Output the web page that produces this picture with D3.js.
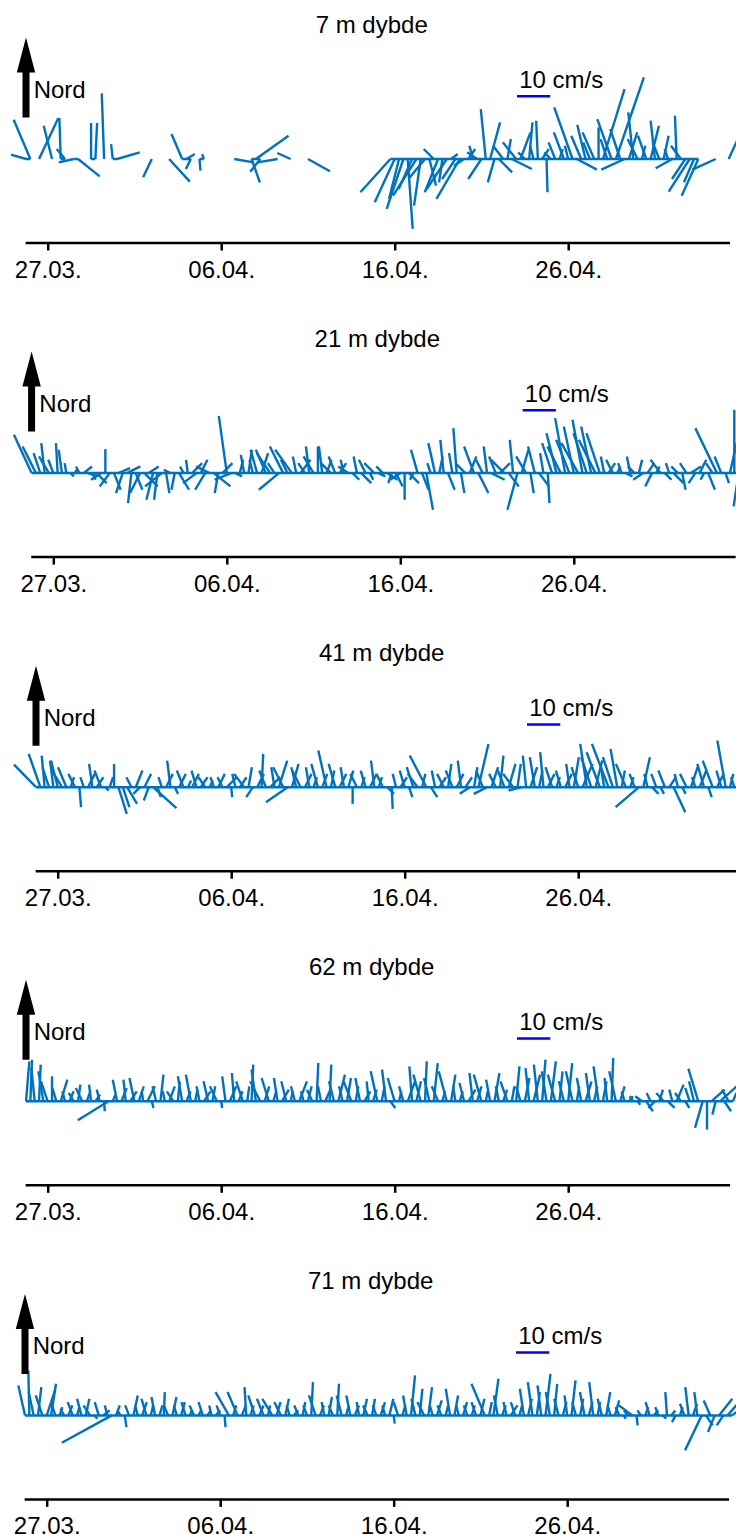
<!DOCTYPE html>
<html>
<head>
<meta charset="utf-8">
<script src="https://cdn.jsdelivr.net/npm/d3@7"></script>
<style>
  html, body { margin: 0; padding: 0; background: #fff; }
  svg { display: block; }
  text { font-family: "Liberation Sans", Arial, Helvetica, sans-serif; fill: #000; }
</style>
</head>
<body>
<svg id="chart" width="736" height="1535"></svg>
<script>
// Current meter stick plots, one panel per depth.
// Samples every 6 hours from 25.03 18:00; east (u) and north (v) components in cm/s.
// null = no valid measurement.

const titles = ["7 m dybde", "21 m dybde", "41 m dybde", "62 m dybde", "71 m dybde"];
const tickLabels = ["27.03.", "06.04.", "16.04.", "26.04."];
const scaleLabel = "10 cm/s";
const northLabel = "Nord";
const scaleValue = 10; // cm/s

const east7 = [
  -4.5, -5, null, 5.8, null, null, -2.5, null, -0.4, -2.5,
  null, -4.5, 6.5, null, null, 0, 0.5, null, -0.7, null,
  -0.5, 6.8, null, null, null, null, null, null, null, -2.6,
  null, null, null, 6.2, null, null, -3.2, 2.5, -1.5, null,
  0.3, -0.5, null, null, null, null, null, null, 5.8, null,
  null, null, 2.5, 9.8, -3, null, null, null, -6, null,
  null, -4, null, null, null, 6.6, null, null, null, null,
  null, null, null, null, null, null, null, null, null, null,
  null, null, null, null, -9, -6, -3, -5, 1.5, -4,
  -7, -2, -5, 2, -3, -4, -1, -6, 2, -4,
  -7, -3, 2, -1, -3, -4, -1.5, 3, -2, 4,
  -3, 1, 6, -4, 3, -2, 1, -1, -0.5, 2,
  0.3, -2, -2, 1, -3, -1, -5.5, 6, -3, -2.5,
  -2, -3.5, 0, 6.5, -2, -4.3, 8.4, -3, -7, 2.5,
  -1.5, -3, 1, -2.5, 2.5, -1.3, -2, 1.5, -1, -5,
  -0.5, -3, -4, -6.3, -3, -5, null, null, null, -7,
  null, null, 2.5, null
];
const north7 = [
  1.3, 11.8, null, 12.3, null, null, 10, null, 12.3, 3,
  null, -1, -5.2, null, null, 10.8, 10.8, null, 19.7, null,
  4.5, 2, null, null, null, null, null, null, null, -5.5,
  null, null, null, -6.8, null, null, 7.5, 1.5, -3, null,
  -3.5, 1.5, null, null, null, null, null, null, -1, null,
  null, null, -7, 7, -3.8, null, null, null, -1, null,
  null, 1.8, null, null, null, -3.7, null, null, null, null,
  null, null, null, null, null, null, null, null, null, null,
  null, null, null, null, -10, -13, -12, -15, -21, -9,
  -11, -14, -6, -8, 3, -10, -7, -9, 1.5, -6,
  -12, -2, 3, 4, 2, -6, 15, 11, -7, -4,
  4, 6, -3, 5, 8, 2, 11, 4, 11.5, 3,
  -10, 2, 5, 3, 8, 4, 15.5, -3.2, 7, 10.3,
  5, 8, 9.5, 21, 6, 12, 24.5, 9, -3.2, 8,
  14, 6, 4, 7, 10, 11.5, 5, 7, 3, -2.8,
  13, 4, -6, -9.8, -7, -11, null, null, null, -3.2,
  null, null, 5.5, null
];

const east21 = [
  -5.3, -4, -2, -1, -3, -1.5, -0.5, -1, -0.5, 1,
  0.5, -1, 2.5, 3, 1, 3, -3, 0, -3, 2,
  3.5, -2, 4, -1, 2, -3, 4, 3, -2, -1,
  -5, 1, -2, -1, 3, -1, -0.5, 3, -4, 2,
  -3, -4, 5, -1, 3, -2.4, -5, 2, 1, -1,
  1, -1, -2, 2, -3, -4, -2, -6, -4, -2,
  -5, -1, 3, -2, -1, -3, 0, -1, 1.5, -3,
  -2, 2, -1, -3, 2, -1, 3, -2, 1, -3,
  2, -2, 3, -1, 2, -3, 0, 3, -1, -2,
  2, 2, -1, -2, 1, -1, 2, -1, -1, 1,
  -3, 2, -3, 3, -2, -1, 4, -2, 3, -4,
  3, -1, -3, 2, -3, 1, -2, 3, -1, 0.5,
  -3, -3, -4, -3, -4, -3, -5, -3, -4, -3,
  -5, -4, -1, 2, -2, 1, -1, 2, -1, -2,
  1, -3, 2, -2, 1, -3, 2, -1, 3, -2,
  1, -2, 3, -2, 2, -1, 2, -2, -6.5, -2,
  1, 2, 0, -1.5
];
const north21 = [
  11.5, 8, 6, 9, 5, 4, 9, 7, 3, -1,
  1, 2, 2, -1, -2, -3, -2, 7.2, -4, -5,
  1.5, -6, 2, -9, -5, -6, -4, 2, -8, -8,
  -4, -6, 1, -5, -5, 2, 4, 3, -3, 4,
  -5, 2, -4, -6, 3, 17.2, -2, -1, 4, 5.5,
  7, 4, 7, 6, 7, 6, 3, -5, 8, 4,
  7, 5, 4, 3, 8, 5, 8, 8, 4, 3,
  5, 3, 4, 2, -2, 5, -3, 4, -2, 3,
  -1, 2, -2, -3, -4, -2, -8, -3, -2, 7,
  -5, -11, 3, 9, 5, 10, -5, 6, 13.5, -6,
  3, 5, 8, -6, 4, 8, -2, 5, 3, 4,
  -4, 10, -11, 7, 5, -6, 8, -4, 6, -9,
  9, 12, 8, 16.5, 10, 14, 9, 16, 12, 14,
  10, 12, 5, 3, 4, 2, 3, -1, 5, 2,
  4, -2, 3, -4, 2, 4, -2, 3, -3, 2,
  -5, 3, 2, -3, 4, -2, -5, 3, 13.5, 5,
  -3, 9, 19, -10
];

const east41 = [
  -6.6, -3.5, -0.9, -2, -1, -2, -3, -2.5, 1, -2,
  0.5, -1, 2, -1, 2, -2, 1, 1, 0, 2.5,
  2, 3, -1.5, 2, -2, 2, -1.5, 7, 1, -1,
  2, -1, 1, 2, -2, 1, 2, -1.5, 2, -2,
  1, -1, 2, -1.5, 3, 0.3, -1, 2, -3, 1,
  -2, 2, 0.5, -2, 3, -1, 2.5, -3, -6.5, 2,
  -1.5, -2.5, 2, -1, 1, -2, 1.5, -2.5, 1, -2,
  2, -1, 1.5, 0, -2, 1, -1.5, 2, -1, 1,
  -2, 2, 0.3, -1, 2, -1.5, 1, -2, -3, 1,
  -5, 2, -1, 2, -2, 1, -2, 2, -1, 2,
  -3, 1, 3, -2, -4, 2, -2, 1, -2, 2,
  -3, 1, -4, -1, 2, -1.5, 1, -1, 2, -2,
  1, -1.5, 2, -1, 1.5, -2, 3, -2, -3, 2,
  -4, -1, -5, -3, -2, 1, -3, 1, -1.5, -7,
  2, -1, 2, -1.5, 1, -2, 2, 3.5, -1, 1,
  -2, 2, -1, 2, -2, 1, -3, 2, -1.5, -2.5,
  1, -1, 0, 0
];
const north41 = [
  6.8, 10, 9.5, 6, 8, 8, 5, 6, 3, 4,
  -6, 3, 4, 7, 3, 5, -1, 3, 7, -8,
  -6, -5, 3, 5, -2, 4, -4, -6.3, -3, 3,
  4, 8, -2, 4, 5, 2, 4, 5, 3, 3,
  2, 3, 4, 3, 3, -3, 4, 3, 4, 6,
  -3, 4, 10, 5, 3, 6, 8, 6, -4.5, 7,
  6, 5, 4, 6, 3, 7, 4, 11, 5, 7,
  4, 6, 5, -5, 4, 3, 5, 4, 8, 3,
  4, -2, -6.5, 4, 3, 5, -3, 6, 4, 4,
  9.5, -3, 5, 3, 4, 7, 5, 4, 8, 3,
  -2, 6, 13, 5, -2, 6, 4, 9.5, 5, 7,
  4, 7, -1, 9.5, 6, 9, 5, 10.5, 4, 6,
  3, 5, 4, 7, 9, 6, 7, 13, 9, 8,
  10.5, 6, 13, 9, 11.5, 5, 7, 3, 4, -6,
  9, 4, -2, 4, -2, 5, 3, -7.5, 4, -2,
  4, 6, 3, 5, 7, -3, 8, 4, 5, 14,
  4, 3, 2, 1.5
];

const east62 = [
  1, 0.5, -1, 0.5, -1.5, -2, 0, -1.2, 2, -0.8,
  1.3, -1.5, 0.7, -2, 1.1, -0.6, 1.4, -0.9, 0.2, -9.2,
  0.8, -1.3, 1.6, -0.7, 2, -1.5, 1.5, -0.4, 2.2, 0.5,
  -1.1, 0.9, -0.6, 1.7, -2, 0.6, -1.3, 1.2, -1.5, 0.7,
  -0.9, 2, -1.4, 0.8, -2.1, 0.3, -1, 1.9, -0.7, 1.2,
  -2, 0.6, 0.5, -1.3, -3, 1.4, -2.2, 0.9, -1.1, 2.1,
  -1.5, 0.7, -1.2, 2.3, -0.8, 1.1, -1.6, 0.5, -0.9, 1.3,
  0.5, -1.5, 2, -1.1, 1.2, -2.3, 0.8, -1.4, 1.8, -0.6,
  1.1, -2, 0.9, -1.2, 1.5, -2.1, 0.7, -1.3, 2.2, -0.8,
  1.4, -2.2, 0.5, -1.6, 1.2, -1.9, 0.8, -2.4, 1.3, -0.7,
  0.9, -1.4, 2.1, -1, 1.3, -2.3, 0.6, -1.2, 1.5, -0.9,
  1.2, -2.1, 0.8, 1, -1.3, 1.4, -1.1, 2, -1.2, 1,
  -1.4, 1.5, -2.2, 0.9, -1.5, 1.2, -2, 0.7, -1.3, 1.8,
  -1.2, 0.9, -1.5, 1.1, -0.8, 0.5, -2, 1.3, -0.9, 1.2,
  -1.1, 0.8, -2, 2, -1.2, -2, 1.1, -2.2, 2, -0.9,
  2.1, -1.8, 1.2, -1.3, -1.5, -3, -2.3, 0, 4, -1,
  5, 2, -2, 1
];
const north62 = [
  12, 12.5, 10, 11, 9, 6, 7.5, 4, 6.5, 3,
  3, 2.5, 5, 4, 3, 5, 2, 3.5, -3, -5.7,
  2, 6.5, 4, 6.5, 3, 7, 4.5, 3, 4.5, -2,
  4.5, 8, 3, 4.5, 3, 6, 7.5, 3, 8, 3.5,
  4.5, 3, 6, 4.5, 4.5, -2, 7.5, 4.5, 8.5, 3,
  6, 4.5, 11, 9.5, 6, 4.5, 7, 3, 7, 3.5,
  6, 3, 4.5, 6, 3, 4.5, 3.5, 11.5, 4.5, 3,
  11, 6, 8, 4.5, 7, 6, 4.5, 7, 3, 6,
  3.5, 9, 4.5, 9.5, -2, 7, 3, 4.5, 6, 10.5,
  6, 8, 12, 7, 11.5, 4.5, 3, 9, 8, 4.5,
  3, 5.5, 3.5, 8.5, 4.5, 8, 3, 6.5, 8.5, 4.5,
  3.5, 6, 4.5, 10.5, 4.5, 7, 10, 8, 11, 12.5,
  9, 12, 8, 9, 6, 11.5, 9, 4.5, 7, 6,
  8.5, 4.5, 10.5, 6, 7, 13, 9, 4.5, 3, 1.5,
  1.5, -1, 1.5, -3, 2.5, -2, 3.5, 2.5, -2, 3.5,
  5, 2.5, -2, 4, 6, 9.8, -8, -8.5, 3.5, -4,
  4.5, -3, 3.5, 2.5
];

const east71 = [
  -2, -0.3, -1.5, 1, -2, 2.5, 1.5, -1.2, 0.8, -1.1,
  1.2, -1.5, 0.7, -1.3, 1.1, -2, 0.9, -1.2, 2, -0.8,
  -15, 1.1, -0.9, 0.5, -1.2, 1.3, -0.8, 1.4, -1.5, 0.7,
  -1.1, 0.9, 0.3, -1.3, 1.2, -0.9, 1.1, -1.2, 0.6, -1.4,
  0.8, -1.3, 1.1, -0.7, 1.3, -1.1, 0.3, -4, 0.9, -3,
  1.2, -0.5, 0.9, -2, 1.3, -2, 0.7, -3, 1.2, -2,
  1.1, -0.9, 1.3, -1.2, 0.8, -1.1, 0.5, -2, 1.2, -0.8,
  1, -1.3, 0.5, -1.5, 0.9, -1.2, 1.3, -0.7, 1.1, -1.4,
  0.9, -1.1, 1.3, -0.8, 1.2, 0.3, -1.3, 0.9, -1.1, 1.2,
  -1.2, 0.8, -2, 1.1, -0.9, 1.4, -1.2, 0.7, -1.3, 1.1,
  -0.8, 1.2, -1.1, 0.9, -1.4, 1.2, -4, 0.8, 1.5, -1.2,
  1.1, -0.9, 2, -1.3, 0.8, -1.2, 1.1, -1.4, 0.9, -1.1,
  1.5, -1.2, 0.9, -1.3, 1.1, -0.8, 1.2, -1.1, 0.9, -1.4,
  1.1, -1.2, 0.8, -1.3, 1.2, -0.9, 1.3, -1.1, 0.7, -1.2,
  -4, 0.3, -1.1, 0.9, -1.2, 1.3, -0.9, 1.1, -0.5, 1.2,
  -1.1, 0.8, -1.3, -1, 1.2, -0.9, -5, 2, -2, -2,
  4, -2, 3, 2
];
const north71 = [
  9, 13.5, 7, 8.5, 6, 7.5, 9.5, 3.5, 2.5, 2,
  3, 4, 2.5, 5, 5, 3, -1, 4, 1.5, 3,
  -8.2, 3, 1.5, -3.5, 3, 6, 3, 4, 5, 3,
  5.5, 3, 7, 3, 5.5, 3, 4, 4, 1.5, 3,
  1.5, 4, 1.5, 3, 1.5, 3, -3.5, 7, 3, 7,
  3, 8.5, 3, 6, 3, 5, 3, 5, 4, 4,
  5, 3, 1.5, 3, 4, 3, 10, 6, 3, 4,
  5.5, 3, 9.5, 6, 3, 6, 3, 4, 5, 3,
  5, 3, 4, 3, 5, -2.5, 4, 3, 6, 12,
  5, 8, 4, 8.5, 3, 4.5, 3, 3, 8, 6,
  3, 4, 3, 3, 4, 5, 9.5, 4, 11, 6,
  3, 4, 3, 4, 3, 8, 5, 10, 7, 9,
  12.5, 7, 9.5, 5, 4, 6, 10.5, 4, 5, 7,
  4, 10, 4, 5, 7, 3, 4.5, 2.5, -1, 1.5,
  3, -3, 1.5, 2.5, 4, 1.5, 2.5, -1, 7, 1.5,
  -2, 2.5, 3.5, 8.5, 3.5, 7, -10.5, -3, 4.5, -5,
  5, -3, 3.5, 1.5
];

const panels = [
  { title: titles[0], east: east7,  north: north7 },
  { title: titles[1], east: east21, north: north21 },
  { title: titles[2], east: east41, north: north41 },
  { title: titles[3], east: east62, north: north62 },
  { title: titles[4], east: east71, north: north71 }
];

// ---- time handling ----
const DAY = 864e5;
const refDay = Date.UTC(2019, 2, 27);               // 27.03.
const sampleStart = Date.UTC(2019, 2, 25, 18);      // first sample
const sampleStep = 6 * 3600e3;                      // 6 h
const axisStart = new Date(refDay - 1.3 * DAY);
const axisEnd = new Date(refDay + 39.3 * DAY);
const tickDates = tickLabels.map(s => {
  const [dd, mm] = s.split(".").map(Number);
  return new Date(Date.UTC(2019, mm - 1, dd));
});

// ---- layout ----
const panelTickX = [47.7, 53.3, 57.7, 47.7, 46.7];   // x of the first tick per panel
const panelAxisY = [242.5, 556.6, 870.7, 1184.8, 1498.9];
const pxPerDay = 17.35;
const stickColor = "#0072bd";
const fontSize = 24;

const svg = d3.select("#chart");

// isotropic vector scale: 10 cm/s -> 33.3 px in both directions
const speed = d3.scaleLinear().domain([0, scaleValue]).range([0, 33.3]);

panels.forEach((p, k) => {
  const x0 = panelTickX[k];
  const ay = panelAxisY[k];
  const x = d3.scaleUtc()
    .domain([axisStart, axisEnd])
    .range([x0 - 1.3 * pxPerDay, x0 + 39.3 * pxPerDay]);
  const base = ay - 83.5;
  const y = d3.scaleLinear().domain([-1, 1]).range([base + speed(1), base - speed(1)]);

  const g = svg.append("g").attr("class", "panel");

  const data = p.east.map((u, i) => ({
    t: new Date(sampleStart + i * sampleStep),
    u: u,
    v: p.north[i]
  }));
  const valid = data.filter(d => d.u != null && d.v != null);

  // zero line along the time series
  g.append("path")
    .datum(data)
    .attr("fill", "none")
    .attr("stroke", stickColor)
    .attr("stroke-width", 2.5)
    .attr("d", d3.line()
      .defined(d => d.u != null)
      .x(d => x(d.t))
      .y(() => y(0)));

  // velocity sticks
  g.append("g").selectAll("line")
    .data(valid)
    .join("line")
    .attr("x1", d => x(d.t))
    .attr("y1", y(0))
    .attr("x2", d => x(d.t) + speed(d.u))
    .attr("y2", d => y(d.v))
    .attr("stroke", stickColor)
    .attr("stroke-width", 2.4);

  // time axis
  const axis = d3.axisBottom(x)
    .tickValues(tickDates)
    .tickFormat(d3.utcFormat("%d.%m."))
    .tickSize(8)
    .tickSizeOuter(0);
  const ga = g.append("g")
    .attr("transform", `translate(0,${ay})`)
    .call(axis)
    .attr("font-size", null)
    .attr("font-family", null);
  ga.select(".domain").attr("stroke", "#000").attr("stroke-width", 2.5);
  ga.selectAll(".tick line").attr("stroke", "#000").attr("stroke-width", 2.5);
  ga.selectAll(".tick text")
    .attr("y", 35.5)
    .attr("dy", null)
    .attr("fill", "#000")
    .style("font-size", fontSize + "px");

  // title
  g.append("text")
    .attr("x", x0 + 324)
    .attr("y", ay - 209.5)
    .attr("text-anchor", "middle")
    .style("font-size", fontSize + "px")
    .text(p.title);

  // north arrow
  const ax = x0 - 21.7;
  const arrow = [
    [ax - 3.5, ay - 125], [ax - 3.5, ay - 170], [ax - 9.2, ay - 170],
    [ax, ay - 205], [ax + 9.2, ay - 170], [ax + 3.5, ay - 170], [ax + 3.5, ay - 125]
  ];
  g.append("path")
    .attr("d", d3.line()(arrow) + "Z")
    .attr("fill", "#000");
  g.append("text")
    .attr("x", x0 - 14)
    .attr("y", ay - 145)
    .style("font-size", fontSize + "px")
    .text(northLabel);

  // scale bar
  const sx = x0 + 469.3;
  g.append("line")
    .attr("x1", sx).attr("x2", sx + speed(scaleValue))
    .attr("y1", ay - 146.3).attr("y2", ay - 146.3)
    .attr("stroke", "#0000ff")
    .attr("stroke-width", 2.5);
  g.append("text")
    .attr("x", sx + 2.2)
    .attr("y", ay - 155)
    .style("font-size", fontSize + "px")
    .text(scaleLabel);
});
</script>
</body>
</html>
